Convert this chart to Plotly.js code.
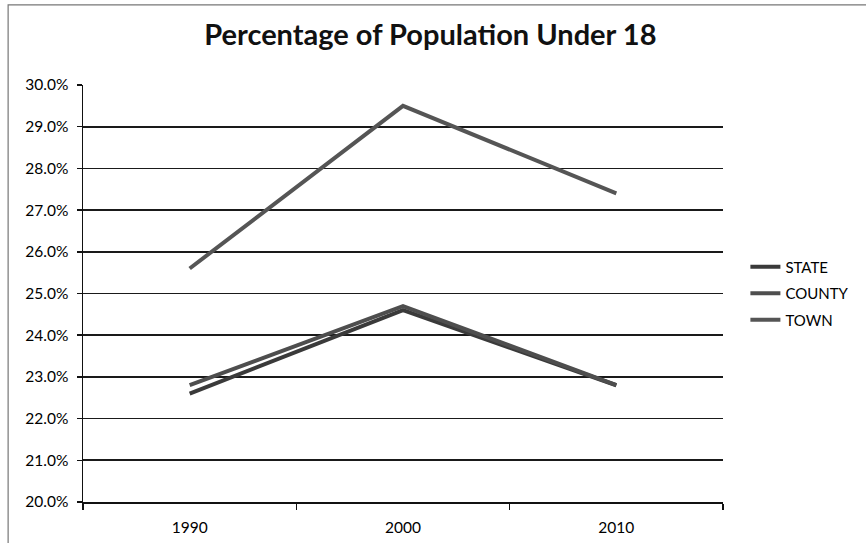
<!DOCTYPE html>
<html>
<head>
<meta charset="utf-8">
<script src="https://cdn.plot.ly/plotly-3.0.1.min.js"></script>
<style>html,body{margin:0;padding:0;background:#fff;}#chart{width:866px;height:543px;}</style>
</head>
<body>
<div id="chart"></div>
<script>
const years = ["1990", "2000", "2010"];
const stateVals = [0.226, 0.246, 0.228];
const countyVals = [0.228, 0.247, 0.228];
const townVals = [0.256, 0.295, 0.274];
const seriesNames = ["STATE", "COUNTY", "TOWN"];
const yTickVals = [0.20,0.21,0.22,0.23,0.24,0.25,0.26,0.27,0.28,0.29,0.30];

const colors = ["#3a3a3a", "#4e4e4e", "#555555"];
const allVals = [stateVals, countyVals, townVals];
const traces = allVals.map((v, i) => ({
  x: years, y: v, name: seriesNames[i], type: 'scatter', mode: 'lines',
  line: {color: colors[i], width: 4}, legendgroup: 'g' + i
}));

const font = "Lato, 'Liberation Sans', sans-serif";
const layout = {
  width: 866, height: 543,
  margin: {l: 83, r: 141, t: 85, b: 41},
  paper_bgcolor: '#fff', plot_bgcolor: '#fff',
  font: {family: font, color: '#000', size: 15},
  title: {text: '<b>Percentage of Population Under 18</b>', font: {family: font, size: 29, color: '#111'},
          x: 0.497, xanchor: 'center', y: 0.935, yanchor: 'middle'},
  xaxis: {type: 'category', range: [-0.5, 2.5], showline: true, linecolor: '#111', linewidth: 1.5,
          ticks: 'outside', tickson: 'boundaries', ticklen: 6, tickcolor: '#111', tickwidth: 1.5,
          showgrid: false, tickfont: {size: 15.5}, zeroline: false, ticklabelstandoff: 11},
  yaxis: {range: [0.20, 0.30], tickvals: yTickVals, tickformat: '.1%', showline: true, linecolor: '#111', linewidth: 1.5,
          ticks: 'outside', ticklen: 5, tickcolor: '#111', tickwidth: 1.5, ticklabelstandoff: 5,
          showgrid: true, gridcolor: '#1a1a1a', gridwidth: 1.6, zeroline: false, tickfont: {size: 15.5}},
  legend: {x: 1.035, xanchor: 'left', y: 0.5, yanchor: 'middle', font: {size: 15, color: '#000'},
           traceorder: 'grouped', tracegroupgap: 4, bgcolor: 'rgba(0,0,0,0)', itemwidth: 30},
  shapes: [{type: 'rect', xref: 'paper', yref: 'paper', x0: -0.117, x1: 1.3, y0: -0.2, y1: 1.192,
            line: {color: '#777', width: 1.2}, fillcolor: 'rgba(0,0,0,0)'}]
};
Plotly.newPlot('chart', traces, layout, {displayModeBar: false, staticPlot: true});
</script>
</body>
</html>
